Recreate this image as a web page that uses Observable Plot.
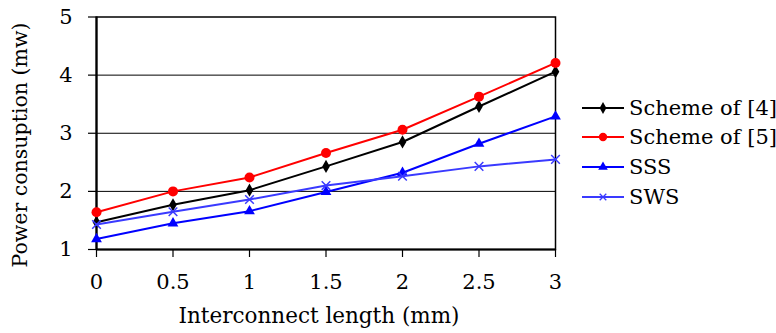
<!DOCTYPE html>
<html>
<head>
<meta charset="utf-8">
<script src="https://cdn.jsdelivr.net/npm/d3@7"></script>
<script src="https://cdn.jsdelivr.net/npm/@observablehq/plot@0.6"></script>
<style>
  html, body { margin: 0; padding: 0; background: #fff; }
  #wrap { position: relative; width: 776px; height: 333px; overflow: hidden; font-family: 'DejaVu Serif', serif; }
  #wrap svg.plot { position: absolute; left: 0; top: 0; }
  .ytitle { position: absolute; left: 20px; top: 145px; transform: translate(-50%, -50%) rotate(-90deg); white-space: nowrap; font-size: 20.5px; color: #000; font-family: 'DejaVu Serif', serif; }
  .xtitle { position: absolute; left: 319px; top: 323px; transform: translate(-50%, -80%); white-space: nowrap; font-size: 21.5px; color: #000; font-family: 'DejaVu Serif', serif; }
  #legend { position: absolute; left: 582px; top: 93px; font-family: 'DejaVu Serif', serif; }
  .item { display: flex; align-items: center; height: 29.6px; font-size: 21px; white-space: nowrap; }
  .item svg { margin-right: 5px; }
</style>
</head>
<body>
<div id="wrap">
  <div class="ytitle">Power consuption (mw)</div>
  <div class="xtitle">Interconnect length (mm)</div>
  <div id="legend"></div>
</div>
<script>
const lengths = [0, 0.5, 1, 1.5, 2, 2.5, 3];
const seriesNames = ["Scheme of [4]", "Scheme of [5]", "SSS", "SWS"];
const scheme4 = [1.47, 1.77, 2.02, 2.43, 2.85, 3.46, 4.06];
const scheme5 = [1.64, 2.00, 2.24, 2.66, 3.06, 3.63, 4.21];
const sss     = [1.18, 1.45, 1.66, 1.99, 2.32, 2.82, 3.29];
const sws     = [1.43, 1.65, 1.86, 2.10, 2.26, 2.43, 2.55];
const yTicks = [1, 2, 3, 4, 5];
const xTicks = [0, 0.5, 1, 1.5, 2, 2.5, 3];
const xTickLabels = ["0", "0.5", "1", "1.5", "2", "2.5", "3"];
const yTickLabels = ["1", "2", "3", "4", "5"];

const FONT = "'DejaVu Serif', serif";

const styles = [
  {stroke: "#000000", fill: "#000000", symbol: "diamond", r: 4},
  {stroke: "#ff0000", fill: "#ff0000", symbol: "circle", r: 5},
  {stroke: "#0000ff", fill: "#0000ff", symbol: "triangle", r: 4},
  {stroke: "#3a3aff", fill: "#3a3aff", symbol: "times", r: 4}
];
const allValues = [scheme4, scheme5, sss, sws];
const data = allValues.map((vals, i) => lengths.map((x, j) => ({x, y: vals[j], s: seriesNames[i]})));

const marks = [
  Plot.gridY([2, 3, 4], {stroke: "#000", strokeOpacity: 1, strokeWidth: 1}),
  Plot.frame({stroke: "#000", strokeWidth: 1.5}),
  Plot.axisY(yTicks, {tickSize: 8, tickPadding: 16, fontSize: 21, fontFamily: FONT, label: null, stroke: "#000", strokeWidth: 1.2,
    tickFormat: (d) => yTickLabels[yTicks.indexOf(d)]}),
  Plot.axisX(xTicks, {tickSize: 8, tickPadding: 17, fontSize: 21, fontFamily: FONT, label: null, stroke: "#000", strokeWidth: 1.2,
    tickFormat: (d) => xTickLabels[xTicks.indexOf(d)]}),
  Plot.ruleX([0], {stroke: "#000", strokeWidth: 2.2}),
  Plot.ruleY([1], {stroke: "#000", strokeWidth: 2})
];
data.forEach((d, i) => {
  const st = styles[i];
  marks.push(Plot.line(d, {x: "x", y: "y", stroke: st.stroke, strokeWidth: 2}));
  if (st.symbol === "times") {
    marks.push(Plot.dot(d, {x: "x", y: "y", symbol: "times", stroke: st.stroke, strokeWidth: 1.5, r: st.r, fill: "none"}));
  } else {
    marks.push(Plot.dot(d, {x: "x", y: "y", symbol: st.symbol, fill: st.fill, stroke: "none", r: st.r}));
  }
});

const chart = Plot.plot({
  width: 776,
  height: 333,
  marginLeft: 96,
  marginRight: 221,
  marginTop: 16.5,
  marginBottom: 84,
  style: {fontFamily: FONT, color: "#000", background: "#fff", overflow: "visible"},
  x: {domain: [0, 3]},
  y: {domain: [1, 5]},
  marks
});
chart.classList.add("plot");
document.getElementById("wrap").prepend(chart);

const legend = document.getElementById("legend");
seriesNames.forEach((name, i) => {
  const st = styles[i];
  const item = document.createElement("div");
  item.className = "item";
  const w = 42, h = 14;
  const sym = d3.symbol().type({diamond: d3.symbolDiamond, circle: d3.symbolCircle, triangle: d3.symbolTriangle, times: d3.symbolTimes}[st.symbol]).size(st.symbol === "circle" ? 55 : 40)();
  const symbolEl = st.symbol === "times"
    ? `<path d="${d3.symbol().type(d3.symbolTimes).size(30)()}" transform="translate(${w/2},${h/2})" stroke="${st.stroke}" stroke-width="1.3" fill="none"/>`
    : `<path d="${sym}" transform="translate(${w/2},${h/2})" fill="${st.fill}"/>`;
  item.innerHTML = `<svg width="${w}" height="${h}"><line x1="0" x2="${w}" y1="${h/2}" y2="${h/2}" stroke="${st.stroke}" stroke-width="2"/>${symbolEl}</svg><span>${name}</span>`;
  legend.appendChild(item);
});
</script>
</body>
</html>
